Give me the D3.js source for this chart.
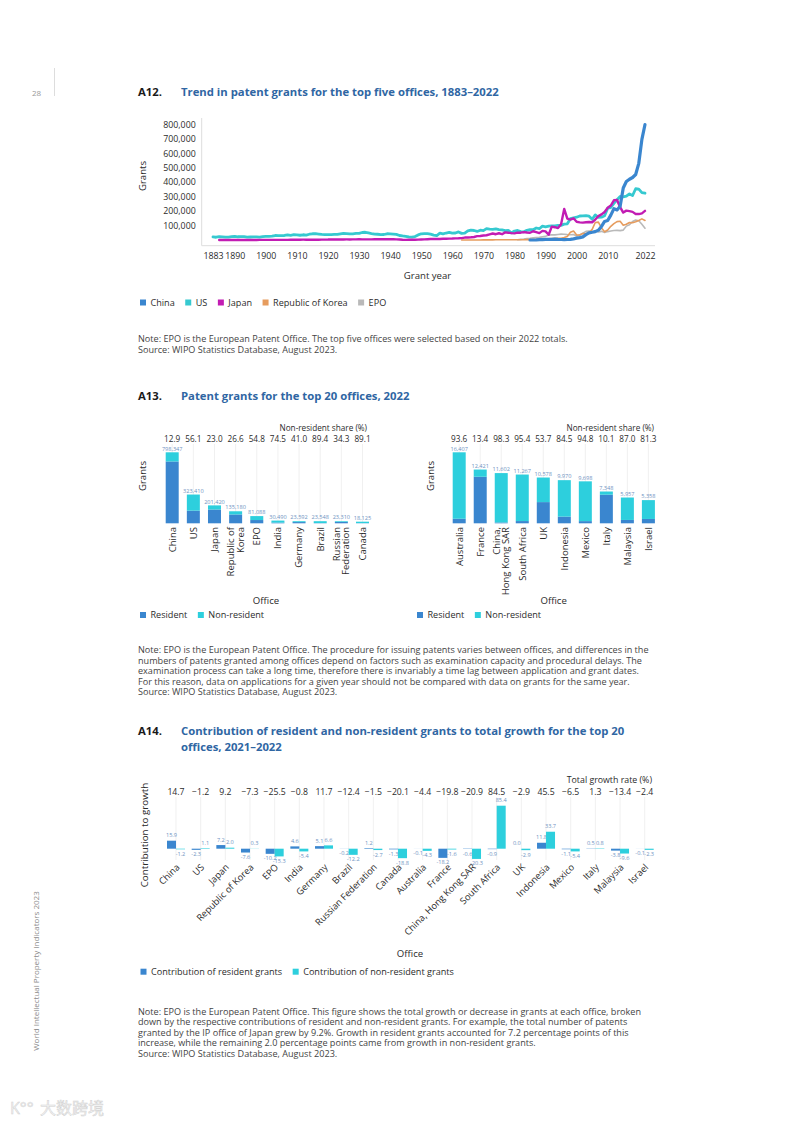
<!DOCTYPE html>
<html>
<head>
<meta charset="utf-8">
<script src="https://cdn.jsdelivr.net/npm/d3@7"></script>
<style>
  body { margin: 0; background: #fff; }
  svg { font-family: "Open Sans", sans-serif; }
</style>
</head>
<body>
<svg width="793" height="1122"></svg>
<script>
// ---------- A12 data: patent grants by year
const usStart = 1883;
const usGrants = [21162, 19118, 23285, 21767, 20420, 19551, 23324,
  25313, 22312, 22647, 22750, 19855, 20856, 21867, 22098, 20188, 23278,
  24644, 25546, 27136, 31029, 30258, 29775, 31170, 35859, 32757, 36574,
  35141, 32856, 36198, 33917, 39892, 43118, 43892, 40935, 38452, 36797,
  37060, 37798, 38369, 38616, 42574, 46432, 44733, 41717, 42357, 45267,
  45226, 51756, 53504, 48774, 44420, 40618, 39831, 37683, 38076, 43073,
  42238, 41109, 38514, 31054, 28053, 25695, 21803, 20139, 23963, 35131,
  43040, 44384, 43616, 40468, 33809, 30432, 46817, 42744, 48330, 52408,
  47170, 48368, 55691, 45679, 47375, 62857, 68406, 65652, 59104, 67559,
  64429, 78317, 74810, 74143, 76278, 72000, 70226, 65269, 66102, 48854,
  61819, 65771, 57888, 56860, 67200, 71661, 70860, 82952, 77924, 95537,
  90365, 96511, 97444, 98342, 101676, 101419, 109645, 111984, 147517, 153485,
  157494, 166035, 167331, 169023, 164290, 143806, 173772, 157282, 157772, 167349,
  219614, 224505, 253155, 277835, 300678, 298407, 303049, 318828, 307759, 354430,
  351993, 327798, 323410];

const japanStart = 1885;
const japanGrants = [100, 200, 200, 200, 300,
  300, 400, 400, 300, 300, 300, 300, 400, 600, 800,
  900, 1200, 1100, 1200, 1200, 1100, 1200, 1200, 1300, 1800,
  2000, 2200, 2300, 2000, 1800, 1600, 1800, 1900, 2300, 2800,
  3000, 3800, 3800, 3400, 3300, 3800, 4000, 3900, 4200, 4500,
  4700, 4500, 4200, 4300, 4600, 4900, 5000, 5300, 5000, 5300,
  5900, 5500, 4500, 3800, 2000, 900, 1400, 1300, 1400, 2300,
  3600, 4300, 5500, 6600, 7800, 7100, 7000, 8200, 8400, 9300,
  10000, 11200, 11800, 13300, 16800, 17500, 18600, 20800, 26800, 27600,
  30900, 33000, 39000, 45000, 40000, 46700, 40300, 52600, 50600, 47600,
  46100, 50900, 50600, 54700, 51700, 50100, 60600, 54200, 47600, 63300,
  59400, 36100, 92100, 88400, 82400, 109100, 215100, 147700, 141400, 150100,
  125900, 121700, 120000, 122500, 124200, 122900, 141400, 164900, 176900, 193300,
  222700, 238300, 274800, 277100, 227100, 189400, 203100, 199600, 194500, 179900,
  179400, 184400, 201420];

const chinaStart = 1985;
const chinaGrants = [138, 56, 500, 2600, 2700,
  3838, 4122, 3966, 6556, 3883, 3393, 2976, 3494, 4733, 7637,
  12683, 16296, 21473, 37154, 49360, 53305, 57786, 67948, 93706, 128489,
  135110, 172113, 217105, 207688, 233228, 359316, 404208, 420144, 432147, 452804,
  530127, 695946, 798347];

const koreaStart = 1963;
const koreaGrants = [400, 300, 400, 500, 400, 500, 400,
  700, 800, 900, 1000, 1400, 1700, 1500, 1600, 1500, 1400,
  1600, 1800, 1900, 2000, 2300, 2300, 2700, 2800, 3300, 3800,
  7800, 8200, 10500, 11400, 11700, 12500, 16500, 24600, 52900, 62600,
  35000, 34700, 45300, 44200, 49100, 73500, 120800, 123700, 83500, 56700,
  68800, 94700, 113500, 127300, 129800, 101900, 108900, 120700, 119000, 125700,
  134700, 145900, 135180];

const epoStart = 1981;
const epoGrants = [1800, 4600, 6800, 10600, 12000, 15000, 17400, 17900, 21500,
  25000, 35000, 36600, 35200, 38200, 40500, 39700, 37000, 36700, 38000,
  27500, 34900, 47400, 59900, 62800, 53300, 62800, 54700, 59800, 51900,
  58100, 62100, 65700, 66700, 64600, 68400, 95900, 105600, 127600, 137800,
  133700, 108800, 81088];

const yearTicks = [1883, 1890, 1900, 1910, 1920, 1930, 1940, 1950, 1960, 1970, 1980, 1990, 2000, 2010, 2022];
const grantTicks = [100000, 200000, 300000, 400000, 500000, 600000, 700000, 800000];

// ---------- A13 data: grants 2022
const officesLeft = ["China", "US", "Japan", "Republic of Korea", "EPO", "India", "Germany", "Brazil", "Russian Federation", "Canada"];
const totalsLeft = [798347, 323410, 201420, 135180, 81088, 30490, 23592, 23548, 23310, 18125];
const residentLeft = [695360, 141977, 155093, 99222, 36652, 7775, 13919, 2496, 15315, 1976];
const sharesLeft = [12.9, 56.1, 23.0, 26.6, 54.8, 74.5, 41.0, 89.4, 34.3, 89.1];

const officesRight = ["Australia", "France", "China, Hong Kong SAR", "South Africa", "UK", "Indonesia", "Mexico", "Italy", "Malaysia", "Israel"];
const totalsRight = [16407, 12421, 11602, 11267, 10578, 9970, 9698, 7348, 5957, 5358];
const residentRight = [1050, 10757, 197, 518, 4898, 1545, 504, 6606, 774, 1002];
const sharesRight = [93.6, 13.4, 98.3, 95.4, 53.7, 84.5, 94.8, 10.1, 87.0, 81.3];

// ---------- A14 data: contribution to growth 2021-2022
const growthOffices = ["China", "US", "Japan", "Republic of Korea", "EPO", "India", "Germany", "Brazil",
  "Russian Federation", "Canada", "Australia", "France", "China, Hong Kong SAR", "South Africa", "UK",
  "Indonesia", "Mexico", "Italy", "Malaysia", "Israel"];
const residentContrib = [15.9, -2.3, 7.2, -7.6, -10.2, 4.6, 5.1, -0.2, 1.2, -1.3, -0.1, -18.2, -0.6, -0.9, 0.0, 11.8, -1.1, 0.5, -3.8, -0.1];
const nonResidentContrib = [-1.2, 1.1, 2.0, 0.3, -15.3, -5.4, 6.6, -12.2, -2.7, -18.8, -4.3, -1.6, -20.3, 85.4, -2.9, 33.7, -5.4, 0.8, -9.6, -2.3];
const totalGrowth = [14.7, -1.2, 9.2, -7.3, -25.5, -0.8, 11.7, -12.4, -1.5, -20.1, -4.4, -19.8, -20.9, 84.5, -2.9, 45.5, -6.5, 1.3, -13.4, -2.4];

const RES = "#3a86cf";
const NONRES = "#2dcfdd";
const FONT = '"Open Sans", sans-serif';
const TXT = "#2b2b2b";
const LBL = "#6f93c2";
const BODY = 9.1;

const svg = d3.select("svg");

// page furniture
svg.append("text").attr("x", 32).attr("y", 96).attr("font-size", 8).attr("fill", "#999").text("28");
svg.append("line").attr("x1", 54.5).attr("x2", 54.5).attr("y1", 68).attr("y2", 96).attr("stroke", "#ddd");
svg.append("text").attr("transform", "translate(38.5,971) rotate(-90)").attr("text-anchor", "middle")
  .attr("font-size", 8).attr("fill", "#8a8a8a").text("World Intellectual Property Indicators 2023");
svg.append("text").attr("x", 40).attr("y", 1114).attr("font-size", 16).attr("font-family", '"Noto Sans CJK SC"')
  .attr("fill", "#f4f4f4").attr("stroke", "#d2d2d2").attr("stroke-width", 0.5).text("大数跨境");
svg.append("text").attr("x", 10).attr("y", 1114).attr("font-size", 16)
  .attr("fill", "#f4f4f4").attr("stroke", "#d2d2d2").attr("stroke-width", 0.5).text("K°°");

function title(num, lines, y) {
  svg.append("text").attr("x", 138).attr("y", y).attr("font-size", 11.3).attr("font-weight", 700)
    .attr("fill", "#1a1a1a").text(num);
  const t = svg.append("text").attr("x", 181).attr("y", y).attr("font-size", 11.3).attr("font-weight", 700)
    .attr("fill", "#2f66a3");
  lines.forEach((s, i) => t.append("tspan").attr("x", 181).attr("dy", i ? 16 : 0).text(s));
}

// one text block per note, one tspan per line
function note(lines, y) {
  const t = svg.append("text").attr("x", 138).attr("y", y).attr("font-size", BODY).attr("fill", "#444");
  lines.forEach((s, i) => t.append("tspan").attr("x", 138).attr("dy", i ? 10.5 : 0).text(s));
}

function legend(x, y, items) {
  let cx = x;
  items.forEach(it => {
    svg.append("rect").attr("x", cx).attr("y", y - 3).attr("width", 6).attr("height", 6).attr("fill", it.color);
    const t = svg.append("text").attr("x", cx + 10.5).attr("y", y + 3.2).attr("font-size", BODY)
      .attr("fill", TXT).text(it.label);
    cx += 10.5 + t.node().getComputedTextLength() + 10.5;
  });
}

// ================= A12 =================
title("A12.", ["Trend in patent grants for the top five offices, 1883–2022"], 96);

const x12 = d3.scaleLinear().domain([1883, 2022]).range([213, 645]);
const y12 = d3.scaleLinear().domain([0, 800000]).range([240, 124.3]);

svg.append("line").attr("x1", 201.7).attr("x2", 201.7).attr("y1", 118).attr("y2", 245.7).attr("stroke", "#ddd");
svg.append("line").attr("x1", 201.7).attr("x2", 655).attr("y1", 245.7).attr("y2", 245.7).attr("stroke", "#ddd");

svg.append("g").attr("transform", "translate(201.7,0)")
  .call(d3.axisLeft(y12).tickValues(grantTicks).tickSize(0).tickPadding(6).tickFormat(d3.format(",")))
  .call(g => g.select(".domain").remove())
  .attr("font-family", FONT).attr("font-size", 8.8)
  .selectAll("text").attr("fill", TXT);

svg.append("g").attr("transform", "translate(0,245.7)")
  .call(d3.axisBottom(x12).tickValues(yearTicks).tickSize(0).tickPadding(6.8).tickFormat(d3.format("d")))
  .call(g => g.select(".domain").remove())
  .attr("font-family", FONT).attr("font-size", 8.8)
  .selectAll("text").attr("fill", TXT);

svg.append("text").attr("transform", "translate(146,176) rotate(-90)").attr("text-anchor", "middle")
  .attr("font-size", 9.6).attr("fill", TXT).text("Grants");
svg.append("text").attr("x", 427.5).attr("y", 279).attr("text-anchor", "middle")
  .attr("font-size", 9.6).attr("fill", TXT).text("Grant year");

const series = [
  { name: "EPO", start: epoStart, values: epoGrants, color: "#b9b9b9", w: 1.6 },
  { name: "Republic of Korea", start: koreaStart, values: koreaGrants, color: "#e69c5e", w: 1.6 },
  { name: "US", start: usStart, values: usGrants, color: "#36c9d0", w: 2.8 },
  { name: "Japan", start: japanStart, values: japanGrants, color: "#c21cb3", w: 2.4 },
  { name: "China", start: chinaStart, values: chinaGrants, color: "#3a86cf", w: 3.2 }
];
const line12 = d3.line().x(d => x12(d.year)).y(d => y12(d.value));
svg.append("g").selectAll("path").data(series).join("path")
  .attr("d", s => line12(s.values.map((v, i) => ({ year: s.start + i, value: v }))))
  .attr("fill", "none").attr("stroke", s => s.color).attr("stroke-width", s => s.w)
  .attr("stroke-linejoin", "round").attr("stroke-linecap", "round");

legend(140, 302.5, ["China", "US", "Japan", "Republic of Korea", "EPO"].map(n => {
  const s = series.find(d => d.name === n);
  return { label: n, color: s.color };
}));

note(["Note: EPO is the European Patent Office. The top five offices were selected based on their 2022 totals.",
  "Source: WIPO Statistics Database, August 2023."], 342.3);

// ================= A13 =================
title("A13.", ["Patent grants for the top 20 offices, 2022"], 400);

const labelLines = {
  "Republic of Korea": ["Republic of", "Korea"],
  "Russian Federation": ["Russian", "Federation"],
  "China, Hong Kong SAR": ["China,", "Hong Kong SAR"]
};

function grantPanel(cfg) {
  const x = d3.scalePoint().domain(cfg.offices).range(cfg.range);
  const y = d3.scaleLinear().domain([0, d3.max(cfg.totals)]).range([523.3, 452.3]);
  const g = svg.append("g");
  const bw = 13;

  g.selectAll(".grid").data(cfg.offices).join("line")
    .attr("x1", d => x(d)).attr("x2", d => x(d)).attr("y1", 444).attr("y2", 523.3)
    .attr("stroke", "#e6e6e6").attr("stroke-width", 0.6);

  g.selectAll(".res").data(cfg.offices).join("rect")
    .attr("x", d => x(d) - bw / 2).attr("width", bw)
    .attr("y", (d, i) => y(cfg.resident[i]))
    .attr("height", (d, i) => y(0) - y(cfg.resident[i]))
    .attr("fill", RES);

  g.selectAll(".non").data(cfg.offices).join("rect")
    .attr("x", d => x(d) - bw / 2).attr("width", bw)
    .attr("y", (d, i) => y(cfg.totals[i]))
    .attr("height", (d, i) => y(cfg.resident[i]) - y(cfg.totals[i]))
    .attr("fill", NONRES);

  g.selectAll(".val").data(cfg.offices).join("text")
    .attr("x", d => x(d)).attr("y", (d, i) => y(cfg.totals[i]) - 1.8)
    .attr("text-anchor", "middle").attr("font-size", 5.6).attr("fill", LBL)
    .text((d, i) => d3.format(",")(cfg.totals[i]));

  g.selectAll(".share").data(cfg.offices).join("text")
    .attr("x", d => x(d)).attr("y", 442)
    .attr("text-anchor", "middle").attr("font-size", 8.2).attr("fill", TXT)
    .text((d, i) => d3.format(".1f")(cfg.shares[i]));

  g.append("text").attr("x", cfg.shareTitleX).attr("y", 431.3).attr("text-anchor", "end")
    .attr("font-size", 8.2).attr("fill", TXT).text("Non-resident share (%)");

  cfg.offices.forEach(d => {
    const lines = labelLines[d] || [d];
    lines.forEach((t, j) => {
      g.append("text")
        .attr("transform", `translate(${x(d) + (j - (lines.length - 1) / 2) * 9.4},527) rotate(-90)`)
        .attr("text-anchor", "end").attr("dy", "0.35em")
        .attr("font-size", 9.5).attr("fill", TXT).text(t);
    });
  });

  g.append("text").attr("transform", `translate(${cfg.grantsX},476) rotate(-90)`).attr("text-anchor", "middle")
    .attr("font-size", 9.6).attr("fill", TXT).text("Grants");
  g.append("text").attr("x", cfg.officeX).attr("y", 604).attr("text-anchor", "middle")
    .attr("font-size", 9.6).attr("fill", TXT).text("Office");

  legend(cfg.legendX, 615, [{ label: "Resident", color: RES }, { label: "Non-resident", color: NONRES }]);
}

grantPanel({
  offices: officesLeft, totals: totalsLeft, resident: residentLeft, shares: sharesLeft,
  range: [172.2, 362.5], shareTitleX: 367, grantsX: 146, officeX: 266, legendX: 140
});
grantPanel({
  offices: officesRight, totals: totalsRight, resident: residentRight, shares: sharesRight,
  range: [459.2, 648.4], shareTitleX: 654, grantsX: 433.5, officeX: 553.7, legendX: 417
});

note(["Note: EPO is the European Patent Office. The procedure for issuing patents varies between offices, and differences in the",
  "numbers of patents granted among offices depend on factors such as examination capacity and procedural delays. The",
  "examination process can take a long time, therefore there is invariably a time lag between application and grant dates.",
  "For this reason, data on applications for a given year should not be compared with data on grants for the same year.",
  "Source: WIPO Statistics Database, August 2023."], 653);

// ================= A14 =================
title("A14.", ["Contribution of resident and non-resident grants to total growth for the top 20",
  "offices, 2021–2022"], 735);

const x14 = d3.scalePoint().domain(growthOffices).range([176, 644.7]);
const y14 = d3.scaleLinear().domain([0, d3.max(nonResidentContrib)]).range([848.7, 805.7]);
const g14 = svg.append("g");
const bw14 = 9;

g14.selectAll(".grid").data(growthOffices).join("line")
  .attr("x1", d => x14(d)).attr("x2", d => x14(d)).attr("y1", 797).attr("y2", 860)
  .attr("stroke", "#e6e6e6").attr("stroke-width", 0.6);

const contribSets = [
  { values: residentContrib, color: RES, off: -bw14 },
  { values: nonResidentContrib, color: NONRES, off: 0 }
];
const barLabel = v => d3.format(".1f")(v).replace("−", "-");
contribSets.forEach(set => {
  g14.append("g").selectAll("rect").data(growthOffices).join("rect")
    .attr("x", d => x14(d) + set.off).attr("width", bw14)
    .attr("y", (d, i) => y14(Math.max(0, set.values[i])))
    .attr("height", (d, i) => Math.abs(y14(set.values[i]) - y14(0)))
    .attr("fill", set.color);
  g14.append("g").selectAll("text").data(growthOffices).join("text")
    .attr("x", d => x14(d) + set.off + bw14 / 2)
    .attr("y", (d, i) => set.values[i] >= 0 ? y14(set.values[i]) - 3.5 : y14(set.values[i]) + 6.5)
    .attr("text-anchor", "middle").attr("font-size", 5.6).attr("fill", LBL)
    .text((d, i) => barLabel(set.values[i]));
});

g14.selectAll(".tot").data(growthOffices).join("text")
  .attr("x", d => x14(d)).attr("y", 794.7)
  .attr("text-anchor", "middle").attr("font-size", 8.7).attr("fill", TXT)
  .text((d, i) => d3.format(".1f")(totalGrowth[i]));

g14.append("text").attr("x", 652).attr("y", 783).attr("text-anchor", "end")
  .attr("font-size", 8.8).attr("fill", TXT).text("Total growth rate (%)");

g14.selectAll(".off").data(growthOffices).join("text")
  .attr("transform", d => `translate(${x14(d) + 2},865.5) rotate(-45)`)
  .attr("text-anchor", "end").attr("dy", "0.35em")
  .attr("font-size", 9.3).attr("fill", TXT).text(d => d);

svg.append("text").attr("transform", "translate(147.5,835) rotate(-90)").attr("text-anchor", "middle")
  .attr("font-size", 9.8).attr("fill", TXT).text("Contribution to growth");
svg.append("text").attr("x", 410).attr("y", 956.5).attr("text-anchor", "middle")
  .attr("font-size", 9.6).attr("fill", TXT).text("Office");

legend(140.5, 971.7, [{ label: "Contribution of resident grants", color: RES },
  { label: "Contribution of non-resident grants", color: NONRES }]);

note(["Note: EPO is the European Patent Office. This figure shows the total growth or decrease in grants at each office, broken",
  "down by the respective contributions of resident and non-resident grants. For example, the total number of patents",
  "granted by the IP office of Japan grew by 9.2%. Growth in resident grants accounted for 7.2 percentage points of this",
  "increase, while the remaining 2.0 percentage points came from growth in non-resident grants.",
  "Source: WIPO Statistics Database, August 2023."], 1014.7);
</script>
</body>
</html>
